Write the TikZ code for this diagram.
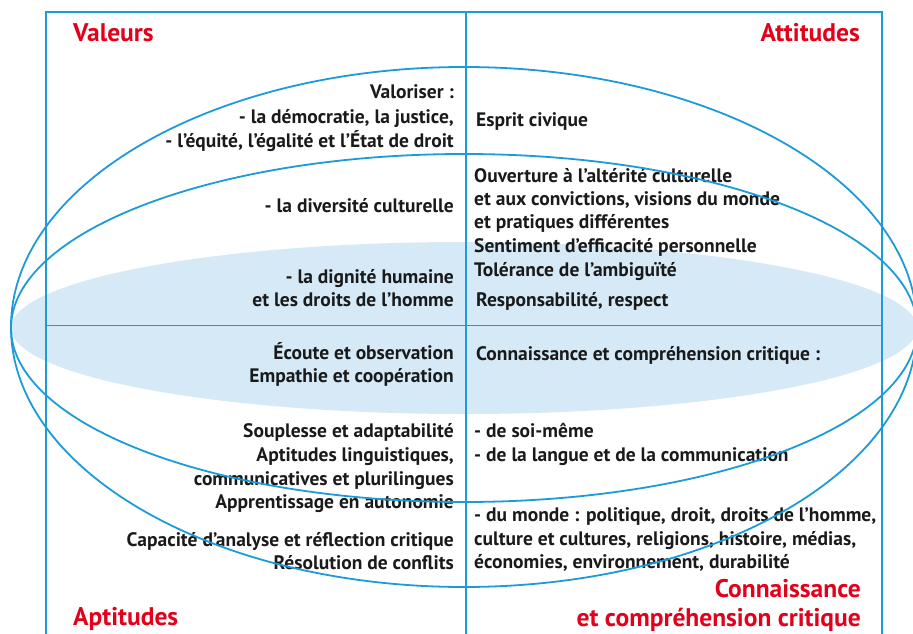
\documentclass[tikz,border=0pt]{standalone}
\usepackage{fontspec}
\setmainfont{PT Sans}
\definecolor{lineblue}{HTML}{1D9BD7}
\definecolor{fillblue}{HTML}{D5EAF6}
\definecolor{titred}{HTML}{E2001A}
\definecolor{ink}{HTML}{1A1A1A}
\begin{document}
\begin{tikzpicture}[x=1pt,y=-1pt,
  frame/.style={draw=lineblue, line width=1.6pt},
  ell/.style={draw=lineblue, line width=1.8pt},
  txt/.style={font=\fontsize{19.5}{23}\selectfont\bfseries, text=ink, inner sep=0pt},
  lft/.style={txt, anchor=base east},
  rgt/.style={txt, anchor=base west},
  ttl/.style={font=\fontsize{25.5}{30}\selectfont\bfseries, text=titred, inner sep=0pt}]
\useasboundingbox (0,0) rectangle (913,634);
\clip (0,0) rectangle (913,634);
% filled inner ellipse
\fill[fillblue] (464,328) ellipse [x radius=453pt, y radius=86pt];
% frame and axes
\draw[frame] (46,660) -- (46,12) -- (882,12) -- (882,660);
\draw[frame] (466,12) -- (466,660);
\draw[frame] (46,325.5) -- (882,325.5);
% titles
\node[ttl, anchor=base west] (tval) at (73,42) {Valeurs};
\node[ttl, anchor=base east] (tatt) at (860,42) {Attitudes};
\node[ttl, anchor=base west] (tapt) at (73,625) {Aptitudes};
\node[ttl, anchor=base east] (tcon1) at (861,597) {Connaissance};
\node[ttl, anchor=base east] (tcon2) at (861,626) {et compréhension critique};
% left upper
\node[lft] (l1) at (454,99) {Valoriser :};
\node[lft] (l2) at (454,123) {- la démocratie, la justice,};
\node[lft] (l3) at (454,147) {- l’équité, l’égalité et l’État de droit};
\node[lft] (l4) at (454,212) {- la diversité culturelle};
\node[lft] (l5) at (454,283) {- la dignité humaine};
\node[lft] (l6) at (454,306) {et les droits de l’homme};
% right upper
\node[rgt] (r1) at (476,126) {Esprit civique};
\node[rgt] (r2) at (474,182) {Ouverture à l’altérité culturelle};
\node[rgt] (r3) at (474,205) {et aux convictions, visions du monde};
\node[rgt] (r4) at (474,228) {et pratiques différentes};
\node[rgt] (r5) at (474,252) {Sentiment d’efficacité personnelle};
\node[rgt] (r6) at (474,276) {Tolérance de l’ambiguïté};
\node[rgt] (r7) at (476,306) {Responsabilité, respect};
% left lower
\node[lft] (b1) at (454,359) {Écoute et observation};
\node[lft] (b2) at (454,382) {Empathie et coopération};
\node[lft] (b3) at (454,437) {Souplesse et adaptabilité};
\node[lft] (b4) at (454,461) {Aptitudes linguistiques,};
\node[lft] (b5) at (454,485) {communicatives et plurilingues};
\node[lft] (b6) at (454,508) {Apprentissage en autonomie};
\node[lft] (b7) at (454,546) {Capacité d’analyse et réflection critique};
\node[lft] (b8) at (454,569) {Résolution de conflits};
% right lower
\node[rgt] (c1) at (476,360) {Connaissance et compréhension critique :};
\node[rgt] (c2) at (474,437) {- de soi-même};
\node[rgt] (c3) at (474,461) {- de la langue et de la communication};
\node[rgt] (c4) at (474,521) {- du monde : politique, droit, droits de l’homme,};
\node[rgt] (c5) at (474,545) {culture et cultures, religions, histoire, médias,};
\node[rgt] (c6) at (474,568) {économies, environnement, durabilité};
% outline ellipses over text
\draw[ell] (464,327) ellipse [x radius=453pt, y radius=260pt];
\draw[ell] (464,328) ellipse [x radius=453pt, y radius=174pt];
\end{tikzpicture}
\end{document}
